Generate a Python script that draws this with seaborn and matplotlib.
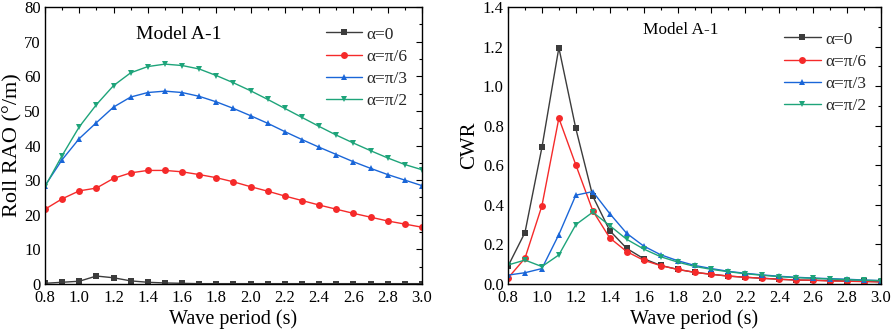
import numpy as np
import pandas as pd
import seaborn as sns
import matplotlib
matplotlib.use("Agg")
import matplotlib.pyplot as plt
from matplotlib.ticker import MultipleLocator, AutoMinorLocator, FormatStrFormatter

period = [0.8, 0.9, 1.0, 1.1, 1.2, 1.3, 1.4, 1.5, 1.6, 1.7, 1.8, 1.9,
          2.0, 2.1, 2.2, 2.3, 2.4, 2.5, 2.6, 2.7, 2.8, 2.9, 3.0]
labels = ["α=0", "α=π/6", "α=π/3", "α=π/2"]

rao_a0 = [0.2, 0.5, 0.8, 2.3, 1.8, 0.9, 0.5, 0.3, 0.2, 0.1, 0.1, 0.1,
          0.1, 0.1, 0.1, 0.1, 0.1, 0.1, 0.1, 0.1, 0.1, 0.1, 0.1]
rao_a30 = [21.6, 24.6, 26.9, 27.7, 30.5, 32.1, 32.8, 32.8, 32.4, 31.6, 30.7, 29.5,
           28.1, 26.8, 25.4, 24.1, 22.8, 21.6, 20.4, 19.3, 18.2, 17.3, 16.4]
rao_a60 = [28.4, 35.9, 42.0, 46.6, 51.1, 54.0, 55.3, 55.7, 55.3, 54.2, 52.6, 50.7,
           48.6, 46.4, 44.0, 41.7, 39.5, 37.4, 35.3, 33.4, 31.6, 30.0, 28.4]
rao_a90 = [28.1, 37.1, 45.4, 51.8, 57.3, 61.0, 62.8, 63.5, 63.1, 62.1, 60.2, 58.1,
           55.8, 53.3, 50.7, 48.1, 45.5, 43.0, 40.7, 38.5, 36.4, 34.5, 33.0]

cwr_a0 = [0.09, 0.26, 0.69, 1.194, 0.786, 0.444, 0.27, 0.18, 0.128, 0.094, 0.074, 0.059,
          0.049, 0.040, 0.034, 0.029, 0.024, 0.020, 0.019, 0.017, 0.015, 0.014, 0.012]
cwr_a30 = [0.03, 0.13, 0.395, 0.838, 0.602, 0.37, 0.233, 0.164, 0.12, 0.093, 0.074, 0.059,
           0.049, 0.040, 0.034, 0.029, 0.024, 0.020, 0.019, 0.015, 0.014, 0.012, 0.010]
cwr_a60 = [0.045, 0.057, 0.078, 0.25, 0.449, 0.467, 0.356, 0.256, 0.192, 0.148, 0.118, 0.094,
           0.078, 0.064, 0.054, 0.046, 0.039, 0.034, 0.030, 0.027, 0.024, 0.020, 0.017]
cwr_a90 = [0.096, 0.121, 0.088, 0.147, 0.30, 0.363, 0.295, 0.226, 0.177, 0.138, 0.111, 0.089,
           0.074, 0.062, 0.052, 0.044, 0.037, 0.032, 0.029, 0.025, 0.022, 0.019, 0.017]

colors = ["#3c3c3c", "#f52a2a", "#1a66d8", "#1ea47a"]
markers = ["s", "o", "^", "v"]

sns.set_theme(style="white")
plt.rcParams["font.family"] = ["Liberation Serif", "DejaVu Serif"]

def long_df(series):
    frames = []
    for lab, vals in zip(labels, series):
        frames.append(pd.DataFrame({"period": period, "value": vals, "case": lab}))
    return pd.concat(frames, ignore_index=True)

fig = plt.figure(figsize=(8.92, 3.32), dpi=100)
ax1 = fig.add_axes([45/892, 1-284/332, 377/892, 277/332])
ax2 = fig.add_axes([508/892, 1-284/332, 373/892, 277/332])

legend_anchor = {id(ax1): (0.962, 0.930), id(ax2): (0.960, 0.912)}

for ax, series in ((ax1, [rao_a0, rao_a30, rao_a60, rao_a90]),
                   (ax2, [cwr_a0, cwr_a30, cwr_a60, cwr_a90])):
    df = long_df(series)
    sns.lineplot(data=df, x="period", y="value", hue="case", style="case",
                 palette=colors, markers=markers, dashes=False, markersize=5,
                 markeredgewidth=0, linewidth=1.0, ax=ax)
    ax.set_xlim(0.8, 3.0)
    ax.xaxis.set_major_locator(MultipleLocator(0.2))
    ax.xaxis.set_minor_locator(MultipleLocator(0.1))
    ax.xaxis.set_major_formatter(FormatStrFormatter("%.1f"))
    ax.yaxis.set_minor_locator(AutoMinorLocator(2))
    ax.tick_params(which="both", direction="in", top=True, right=True,
                   labelsize=12, colors="black")
    ax.tick_params(axis="x", pad=4.5)
    ax.tick_params(axis="y", pad=3)
    ax.tick_params(which="major", length=4, width=0.8)
    ax.tick_params(which="minor", length=2.5, width=0.8)
    for s in ax.spines.values():
        s.set_color("black")
        s.set_linewidth(1.0)
    ax.set_xlabel("Wave period (s)", fontsize=14.5, labelpad=2, color="black")
    leg = ax.legend(loc="upper right", bbox_to_anchor=legend_anchor[id(ax)],
                    frameon=False, fontsize=12.5, handlelength=2.1,
                    handletextpad=0.25, labelspacing=0.35, borderaxespad=0,
                    borderpad=0)
    leg.set_title(None)

ax1.set_ylim(0, 80)
ax1.yaxis.set_major_locator(MultipleLocator(10))
ax1.set_ylabel("Roll RAO (°/m)", fontsize=16, labelpad=1, color="black")
ax1.text(0.241, 0.899, "Model A-1", transform=ax1.transAxes, fontsize=14,
         ha="left", va="center", color="black")

ax2.set_ylim(0, 1.4)
ax2.yaxis.set_major_locator(MultipleLocator(0.2))
ax2.yaxis.set_major_formatter(FormatStrFormatter("%.1f"))
ax2.set_ylabel("CWR", fontsize=15, labelpad=3, color="black")
ax2.text(0.362, 0.917, "Model A-1", transform=ax2.transAxes, fontsize=12.4,
         ha="left", va="center", color="black")

fig.savefig("out.png", dpi=100)
